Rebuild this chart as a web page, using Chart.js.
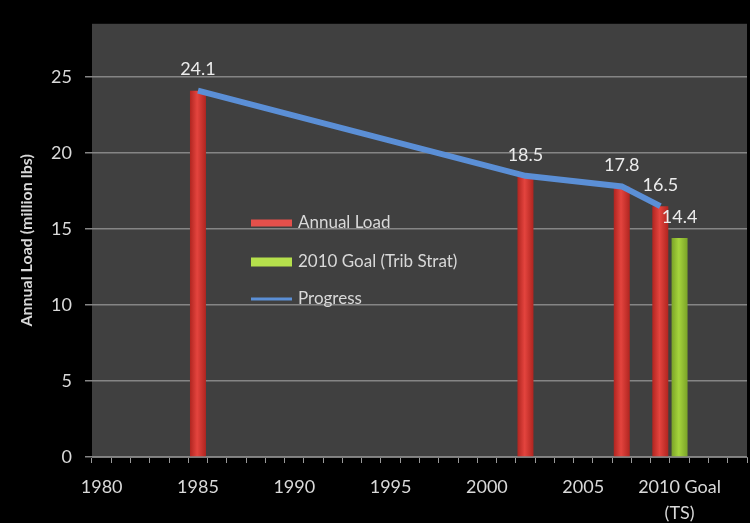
<!DOCTYPE html>
<html>
<head>
<meta charset="utf-8">
<script src="https://cdn.jsdelivr.net/npm/chart.js@4.4.1/dist/chart.umd.min.js"></script>
<style>
  body { margin: 0; background: #000; }
  #wrap { width: 750px; height: 523px; }
</style>
</head>
<body>
<div id="wrap"><canvas id="chart"></canvas></div>
<script>
// categories on the x axis (one per year)
const years = ['1980', '1981', '1982', '1983', '1984', '1985', '1986', '1987', '1988', '1989',
    '1990', '1991', '1992', '1993', '1994', '1995', '1996', '1997', '1998', '1999',
    '2000', '2001', '2002', '2003', '2004', '2005', '2006', '2007', '2008', '2009',
    '2010 Goal (TS)', '2011', '2012', '2013'];

// annual load (million lbs)
const loadYears = ['1985', '2002', '2007', '2009'];
const loadValues = [24.1, 18.5, 17.8, 16.5];

// 2010 goal (tributary strategy)
const goalYears = ['2010 Goal (TS)'];
const goalValues = [14.4];

const yTicks = [0, 5, 10, 15, 20, 25];

const textColor = '#d9d9d9';
const fontFamily = 'Lato, "Open Sans", sans-serif';
const barPct = 0.83;

function points(xs, ys) {
    return xs.map((x, i) => ({ x: x, y: ys[i] }));
}

// horizontal gradient across each bar, a bit like the cylinder look
function barFill(dark, light) {
    return ctx => {
        const chart = ctx.chart;
        const xs = chart.scales.x;
        if (!ctx.parsed || !xs || !isFinite(xs.width) || xs.width <= 0) return light;
        const cx = xs.getPixelForValue(ctx.parsed.x);
        const w = xs.width / years.length * barPct / 2;
        if (!isFinite(cx)) return light;
        const g = chart.ctx.createLinearGradient(cx - w, 0, cx + w, 0);
        g.addColorStop(0, dark);
        g.addColorStop(0.45, light);
        g.addColorStop(1, dark);
        return g;
    };
}

const backdrop = {
    id: 'backdrop',
    beforeDraw(chart) {
        const { ctx, chartArea: a } = chart;
        ctx.save();
        ctx.fillStyle = '#000';
        ctx.fillRect(0, 0, chart.width, chart.height);
        ctx.fillStyle = '#404040';
        ctx.fillRect(a.left, a.top, a.right - a.left, a.bottom - a.top);
        ctx.restore();
    }
};

const valueLabels = {
    id: 'valueLabels',
    afterDatasetsDraw(chart) {
        const ctx = chart.ctx;
        ctx.save();
        ctx.font = '18px ' + fontFamily;
        ctx.fillStyle = '#ececec';
        ctx.textAlign = 'center';
        ctx.textBaseline = 'middle';
        [0, 1].forEach(di => {
            const ds = chart.data.datasets[di];
            chart.getDatasetMeta(di).data.forEach((el, i) => {
                ctx.fillText(ds.data[i].y.toFixed(1), el.x, el.y - 21);
            });
        });
        ctx.restore();
    }
};

const innerLegend = {
    id: 'innerLegend',
    afterDatasetsDraw(chart) {
        const ctx = chart.ctx;
        const rows = [
            { ds: 0, y: 223, h: 7 },
            { ds: 1, y: 262, h: 9 },
            { ds: 2, y: 299, h: 3 }
        ];
        ctx.save();
        ctx.font = '17px ' + fontFamily;
        ctx.textBaseline = 'middle';
        rows.forEach(r => {
            const ds = chart.data.datasets[r.ds];
            ctx.fillStyle = ds.legendColor;
            ctx.fillRect(251, r.y - r.h / 2, 41, r.h);
            ctx.fillStyle = textColor;
            ctx.fillText(ds.label, 298, r.y);
        });
        ctx.restore();
    }
};

new Chart(document.getElementById('chart'), {
    data: {
        labels: years,
        datasets: [{
            type: 'bar',
            label: 'Annual Load',
            data: points(loadYears, loadValues),
            backgroundColor: barFill('#b02520', '#e4443e'),
            legendColor: '#e5504b',
            grouped: false,
            barPercentage: barPct,
            categoryPercentage: 1,
            order: 2
        }, {
            type: 'bar',
            label: '2010 Goal (Trib Strat)',
            data: points(goalYears, goalValues),
            backgroundColor: barFill('#7aa328', '#a6d43c'),
            legendColor: '#b5e04c',
            grouped: false,
            barPercentage: barPct,
            categoryPercentage: 1,
            order: 2
        }, {
            type: 'line',
            label: 'Progress',
            data: points(loadYears, loadValues),
            borderColor: '#5b8fd6',
            legendColor: '#5b8fd6',
            borderWidth: 6,
            pointRadius: 0,
            tension: 0,
            spanGaps: true,
            order: 1
        }]
    },
    options: {
        responsive: true,
        maintainAspectRatio: false,
        animation: false,
        layout: { padding: { top: 9, right: 3, left: 0, bottom: 0 } },
        plugins: {
            legend: { display: false },
            tooltip: { enabled: false }
        },
        scales: {
            x: {
                type: 'category',
                offset: true,
                afterFit: s => { s.height = 66; },
                grid: {
                    offset: true,
                    drawOnChartArea: false,
                    drawTicks: true,
                    tickLength: 6,
                    color: '#9a9a9a'
                },
                border: { color: '#7a7a7a', width: 1 },
                ticks: {
                    autoSkip: false,
                    maxRotation: 0,
                    padding: 12,
                    color: textColor,
                    font: { family: fontFamily, size: 18, lineHeight: 1.4 },
                    callback: function (v, i) {
                        if (i % 5 !== 0) return '';
                        const s = this.getLabelForValue(v);
                        return s === '2010 Goal (TS)' ? ['2010 Goal', '(TS)'] : s;
                    }
                }
            },
            y: {
                min: 0,
                max: 28.5,
                afterFit: s => { s.width = 92; },
                afterBuildTicks: s => { s.ticks = yTicks.map(v => ({ value: v })); },
                grid: {
                    color: '#858585',
                    lineWidth: 1.5,
                    tickLength: 7
                },
                border: { display: false },
                ticks: {
                    padding: 13,
                    color: textColor,
                    font: { family: fontFamily, size: 18 }
                },
                title: {
                    display: true,
                    text: 'Annual Load (million lbs)',
                    color: textColor,
                    font: { family: fontFamily, size: 16, weight: 'bold' },
                    padding: { top: 17, bottom: 0 }
                }
            }
        }
    },
    plugins: [backdrop, valueLabels, innerLegend]
});
</script>
</body>
</html>
